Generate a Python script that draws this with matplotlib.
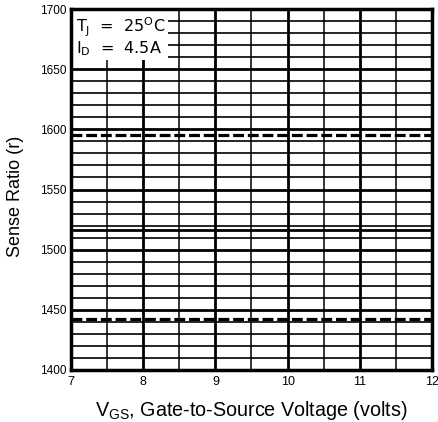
import matplotlib
matplotlib.use("Agg")
import matplotlib.pyplot as plt
import numpy as np

# Data
vgs = [7, 8, 9, 10, 11, 12]
ratio_max = [1595, 1595, 1595, 1595, 1595, 1595]
ratio_typ = [1516, 1516, 1516, 1516, 1516, 1516]
ratio_min = [1442, 1442, 1442, 1442, 1442, 1442]
x_ticks = [7, 8, 9, 10, 11, 12]
y_ticks = [1400, 1450, 1500, 1550, 1600, 1650, 1700]

plt.rcParams['font.family'] = ['Liberation Sans', 'DejaVu Sans']

fig = plt.figure(figsize=(4.38, 4.22), dpi=100)
ax = fig.add_axes([71/438, 1 - 370/422, (432-71)/438, (370-9)/422])
ax.set_xlim(7, 12)
ax.set_ylim(1400, 1700)

# grid
for xv in np.arange(7.5, 12, 0.5):
    lw = 2.0 if abs(xv - round(xv)) < 1e-6 else 1.1
    ax.axvline(xv, color='black', lw=lw, zorder=1)
for yv in range(1410, 1700, 10):
    lw = 2.0 if yv % 50 == 0 else 1.2
    ax.axhline(yv, color='black', lw=lw, zorder=1)

# data lines
ax.plot(vgs, ratio_max, color='black', lw=2.3, dashes=(3.4, 1.2), zorder=3)
ax.plot(vgs, ratio_typ, color='black', lw=2.0, zorder=3)
ax.plot(vgs, ratio_min, color='black', lw=2.3, dashes=(3.4, 1.2), zorder=3)

# annotation box
ax.add_patch(plt.Rectangle((7.0, 1657.5), 1.34, 42.5, facecolor='white',
                           edgecolor='none', zorder=4))
ax.text(7.07, 1681, r'T$_\mathregular{J}$  =  25$^\mathregular{O}$C', fontsize=11.5,
        family=['DejaVu Sans'], va='baseline', ha='left', zorder=5)
ax.text(7.07, 1663, r'I$_\mathregular{D}$  =  4.5A', fontsize=11.5,
        family=['DejaVu Sans'], va='baseline', ha='left', zorder=5)

for s in ax.spines.values():
    s.set_linewidth(2.5)
    s.set_zorder(6)

ax.set_xticks(x_ticks)
ax.set_yticks(y_ticks)
ax.set_xticklabels([str(v) for v in x_ticks], fontsize=9)
ax.set_yticklabels([str(v) for v in y_ticks], fontsize=8.5)
ax.tick_params(axis='y', length=0, pad=3)
ax.tick_params(axis='x', length=0, pad=4)

ax.set_xlabel(r'V$_\mathregular{GS}$, Gate-to-Source Voltage (volts)', fontsize=14.2, labelpad=8)
ax.set_ylabel('Sense Ratio (r)', fontsize=13)
ax.yaxis.set_label_coords(-0.13, 0.482)

fig.savefig('out.png', dpi=100)
